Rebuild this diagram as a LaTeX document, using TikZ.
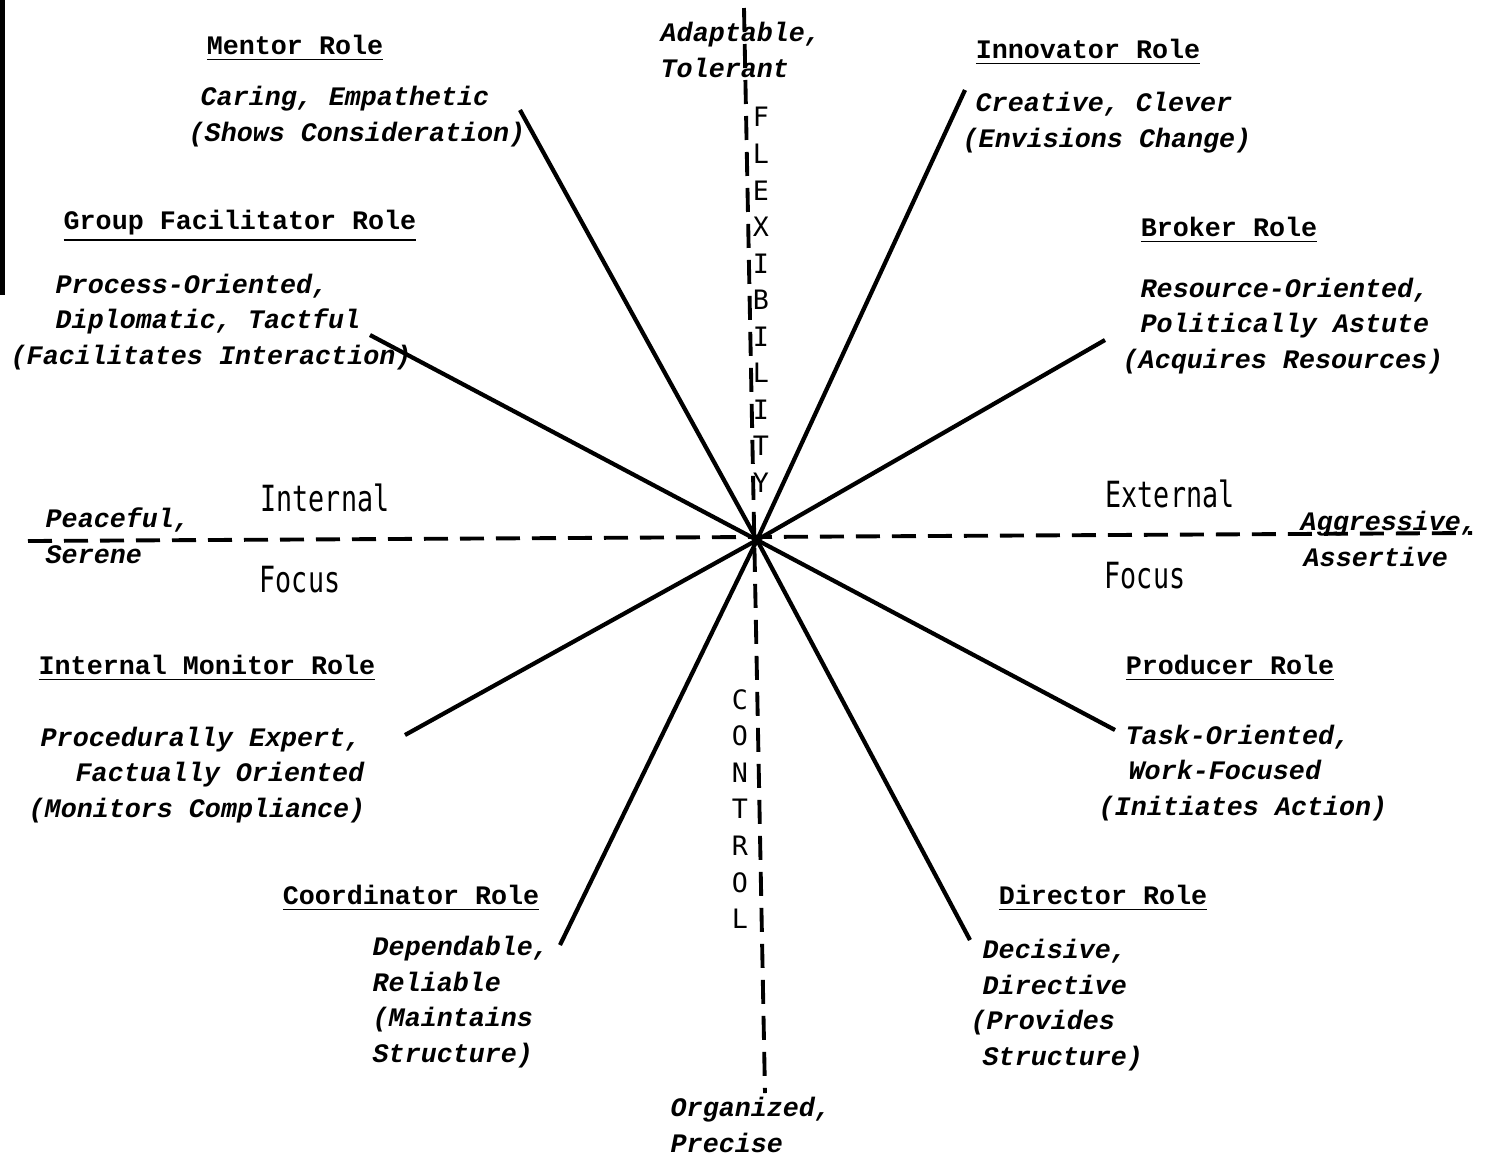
\documentclass[tikz,border=0pt]{standalone}
\usepackage{fontspec}
\setmonofont{Liberation Mono}
\newfontfamily\gothicfont{DejaVu Sans Mono}

\tikzset{
    role/.style={anchor=center, inner sep=0pt, font=\ttfamily\bfseries\fontsize{7.6}{10.2}\selectfont},
    trait/.style={anchor=west, align=left, inner sep=0pt, font=\ttfamily\bfseries\itshape\fontsize{7.6}{10.2}\selectfont},
    focus/.style={anchor=center, inner sep=0pt, yscale=1.35, font=\gothicfont\fontsize{7.6}{10}\selectfont},
    axisword/.style={anchor=center, align=center, inner sep=0pt, font=\gothicfont\fontsize{7.6}{10.4}\selectfont},
    spoke/.style={line width=1.2pt},
    axisline/.style={line width=1.1pt, dash pattern=on 0.24cm off 0.12cm},
}

\begin{document}
\begin{tikzpicture}
    \useasboundingbox (0, 0) rectangle (14.86, -11.65);
    % Competing values: eight roles round two axes.
    \begin{scope}
        \fill (0, 0) rectangle (0.05, -2.95);
        \coordinate (mid) at (7.57, -5.40);
        \coordinate (flexTop) at (7.44, -0.08);
        \coordinate (ctrlEnd) at (7.65, -10.93);
        \coordinate (peaceEnd) at (0.28, -5.41);
        \coordinate (aggrEnd) at (14.72, -5.33);
        \draw[axisline] (flexTop) -- (ctrlEnd);
        \draw[axisline] (peaceEnd) -- (aggrEnd);

        \coordinate (mentorEnd) at (5.20, -1.10);
        \coordinate (innovEnd) at (9.65, -0.90);
        \coordinate (facilEnd) at (3.70, -3.35);
        \coordinate (brokerEnd) at (11.05, -3.40);
        \coordinate (monitorEnd) at (4.05, -7.35);
        \coordinate (producerEnd) at (11.15, -7.30);
        \coordinate (coordEnd) at (5.60, -9.45);
        \coordinate (directorEnd) at (9.70, -9.40);
        \draw[spoke] (mid) -- (mentorEnd);
        \draw[spoke] (mid) -- (innovEnd);
        \draw[spoke] (mid) -- (facilEnd);
        \draw[spoke] (mid) -- (brokerEnd);
        \draw[spoke] (mid) -- (monitorEnd);
        \draw[spoke] (mid) -- (producerEnd);
        \draw[spoke] (mid) -- (coordEnd);
        \draw[spoke] (mid) -- (directorEnd);

        \node[axisword] (flex) at (7.61, -3.00) {F\\L\\E\\X\\I\\B\\I\\L\\I\\T\\Y};
        \node[axisword] (ctrl) at (7.40, -8.09) {C\\O\\N\\T\\R\\O\\L};
        \node[trait] (adapt) at (6.60, -0.50) {Adaptable,\\Tolerant};
        \node[trait] (organ) at (6.70, -11.25) {Organized,\\Precise};
        \node[trait] (peace) at (0.45, -5.36) {Peaceful,\\Serene};
        \node[trait] (aggr) at (13.00, -5.39) {Aggressive,\\\hspace*{0.03cm}Assertive};

        \node[focus] (intTop) at (3.25, -4.98) {Internal};
        \node[focus] (intBot) at (3.00, -5.80) {Focus};
        \node[focus] (extTop) at (11.70, -4.94) {External};
        \node[focus] (extBot) at (11.45, -5.76) {Focus};

        \node[role] (mentor) at (2.95, -0.48) {\underline{Mentor Role}};
        \node[trait] (mentorTxt) at (1.88, -1.17) {\hspace*{0.12cm}Caring, Empathetic\\(Shows Consideration)};
        \node[role] (innov) at (10.88, -0.52) {\underline{Innovator Role}};
        \node[trait] (innovTxt) at (9.62, -1.23) {\hspace*{0.13cm}Creative, Clever\\(Envisions Change)};
        \node[role] (facil) at (2.40, -2.26) {\underline{Group Facilitator Role}};
        \node[trait] (facilTxt) at (0.10, -3.22) {\hspace*{0.45cm}Process-Oriented,\\\hspace*{0.45cm}Diplomatic, Tactful\\(Facilitates Interaction)};
        \node[role] (broker) at (12.29, -2.30) {\underline{Broker Role}};
        \node[trait] (brokerTxt) at (11.22, -3.26) {\hspace*{0.18cm}Resource-Oriented,\\\hspace*{0.18cm}Politically Astute\\(Acquires Resources)};
        \node[role] (monitor) at (2.07, -6.68) {\underline{Internal Monitor Role}};
        \node[trait] (monitorTxt) at (0.28, -7.75) {\hspace*{0.12cm}Procedurally Expert,\\\hspace*{0.47cm}Factually Oriented\\(Monitors Compliance)};
        \node[role] (producer) at (12.30, -6.68) {\underline{Producer Role}};
        \node[trait] (producerTxt) at (10.98, -7.73) {\hspace*{0.27cm}Task-Oriented,\\\hspace*{0.30cm}Work-Focused\\(Initiates Action)};
        \node[role] (coord) at (4.11, -8.98) {\underline{Coordinator Role}};
        \node[trait] (coordTxt) at (3.72, -10.02) {Dependable,\\Reliable\\(Maintains\\Structure)};
        \node[role] (director) at (11.03, -8.98) {\underline{Director Role}};
        \node[trait] (directorTxt) at (9.70, -10.05) {\hspace*{0.12cm}Decisive,\\\hspace*{0.12cm}Directive\\(Provides\\\hspace*{0.12cm}Structure)};
    \end{scope}
\end{tikzpicture}
\end{document}
